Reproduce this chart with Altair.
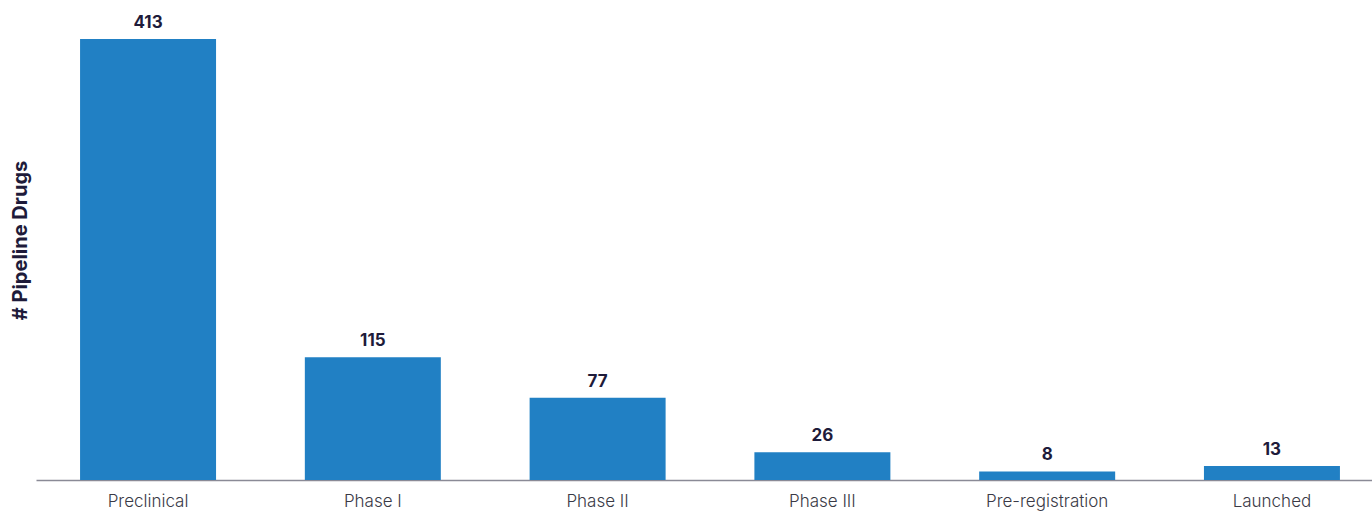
import altair as alt
import pandas as pd

stages = ["Preclinical", "Phase I", "Phase II", "Phase III", "Pre-registration", "Launched"]
counts = [413, 115, 77, 26, 8, 13]

df = pd.DataFrame({"stage": stages, "count": counts})

FONT = "Inter"

x = alt.X(
    "stage:N",
    sort=stages,
    scale=alt.Scale(range=[0, 1348], paddingInner=0.395, paddingOuter=0.196),
    axis=alt.Axis(
        title=None, labelAngle=0, ticks=False, domainColor="#8a8a96", domainWidth=1.5,
        labelFontSize=17, labelColor="#3a3a46", labelFont=FONT, labelPadding=13,
        labelFontWeight=300,
    ),
)
y = alt.Y(
    "count:Q",
    scale=alt.Scale(domain=[0, 449.5], nice=False),
    axis=alt.Axis(
        title="# Pipeline Drugs", labels=False, ticks=False, domain=False, grid=False,
        titleFontSize=20, titleFontWeight="bold", titleColor="#1e1b3a", titleFont=FONT,
        titlePadding=6,
    ),
)

bars = alt.Chart(df).mark_bar(color="#2180c4").encode(x=x, y=y)
text = alt.Chart(df).mark_text(
    baseline="bottom", dy=-7, fontSize=17, fontWeight="bold", color="#1e1b3a", font=FONT
).encode(x=alt.X("stage:N", sort=stages), y="count:Q", text="count:Q")

chart = (bars + text).properties(
    width=1336, height=480,
    autosize=alt.AutoSizeParams(type="none"),
    padding={"left": 36, "top": 0, "right": 0, "bottom": 32},
    background="white",
).configure_view(stroke=None)

chart.save("out.html", embed_options={"renderer": "svg", "actions": False})
